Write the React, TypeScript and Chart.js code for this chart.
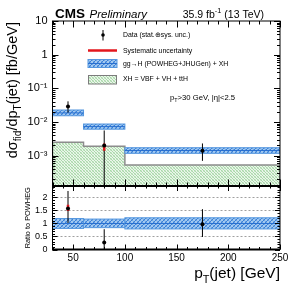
import React, { useEffect, useRef } from 'react';
import { Chart, registerables } from 'chart.js';
Chart.register(...registerables);

const FONT = '"Liberation Sans", Arial, Helvetica, sans-serif';

// ---------------- data ----------------
const binEdges = [30, 60, 100, 250];
const xhXS = [2.5e-3, 1.9e-3, 5.3e-4];
const ggHXS = [1.86e-2, 7.3e-3, 1.42e-3];
const ggHUp = [2.27e-2, 8.7e-3, 1.72e-3];
const ggHDown = [1.53e-2, 6.1e-3, 1.17e-3];
const dataBinCenters = [45, 80, 175];
const dataXS = [2.9e-2, 2.0e-3, 1.4e-3];
const dataTotUp = [4.1e-2, 5.6e-3, 2.3e-3];
const dataTotDown = [1.9e-2, 1e-6, 7.0e-4];
const dataSysUp = [3.15e-2, 2.3e-3, 1.5e-3];
const dataSysDown = [2.7e-2, 1.4e-3, 1.3e-3];
const ratioValues = [1.58, 0.27, 0.97];
const ratioTotUp = [2.25, 0.78, 1.55];
const ratioTotDown = [1.02, 0.0, 0.48];
const ratioSysUp = [1.72, 0.31, 1.0];
const ratioSysDown = [1.48, 0.23, 0.94];
const ratioBandLow = [0.81, 0.84, 0.79];
const ratioBandHigh = [1.19, 1.17, 1.22];
const xTickValues = [50, 100, 150, 200, 250];
const ratioTickValues = [0, 0.5, 1, 1.5, 2];
const ratioGridValues = [0.5, 1, 1.5, 2];
const logTickValues = [10, 1, 0.1, 0.01, 0.001];
const logTickLabels = ['10', '1', '10\u207B\u00B9', '10\u207B\u00B2', '10\u207B\u00B3'];
const legendLabels = [
  'Data (stat.\u2295sys. unc.)',
  'Systematic uncertainty',
  'gg\u2192H (POWHEG+JHUGen) + XH',
  'XH = VBF + VH + ttH',
];

type Part = { t: string; sub?: boolean; sup?: boolean };

function richWidth(ctx: CanvasRenderingContext2D, parts: Part[], size: number, style = '') {
  let w = 0;
  for (const p of parts) {
    const s = p.sub || p.sup ? size * 0.7 : size;
    ctx.font = `${style} ${s}px ${FONT}`;
    w += ctx.measureText(p.t).width;
  }
  return w;
}

function drawRich(ctx: CanvasRenderingContext2D, parts: Part[], x: number, y: number, size: number, align: 'left' | 'right' | 'center', style = '') {
  const w = richWidth(ctx, parts, size, style);
  let cx = align === 'left' ? x : align === 'right' ? x - w : x - w / 2;
  ctx.textAlign = 'left';
  for (const p of parts) {
    const s = p.sub || p.sup ? size * 0.7 : size;
    ctx.font = `${style} ${s}px ${FONT}`;
    const dy = p.sub ? size * 0.3 : p.sup ? -size * 0.4 : 0;
    ctx.fillText(p.t, cx, y + dy);
    cx += ctx.measureText(p.t).width;
  }
}

let patternCache: { blue: CanvasPattern | string; green: CanvasPattern | string } | null = null;
function getPatterns(ctx: CanvasRenderingContext2D) {
  if (patternCache) return patternCache;
  const b = document.createElement('canvas');
  b.width = 4; b.height = 4;
  const bc = b.getContext('2d')!;
  bc.fillStyle = '#a3c9f0';
  bc.fillRect(0, 0, 4, 4);
  bc.fillStyle = '#3a80d6';
  for (let i = 0; i < 4; i++) bc.fillRect(i, 3 - i, 1, 1);
  bc.fillStyle = '#6fa7e6';
  for (let i = 0; i < 4; i++) bc.fillRect(i, i, 1, 1);
  const g = document.createElement('canvas');
  g.width = 3; g.height = 3;
  const gc = g.getContext('2d')!;
  gc.fillStyle = '#eaf6ea';
  gc.fillRect(0, 0, 3, 3);
  gc.fillStyle = '#a9d8a9';
  gc.fillRect(0, 0, 1, 1);
  gc.fillRect(1, 1, 1, 1);
  gc.fillRect(2, 2, 1, 1);
  gc.fillStyle = '#cbe8cb';
  gc.fillRect(2, 0, 1, 1);
  gc.fillRect(0, 2, 1, 1);
  patternCache = {
    blue: ctx.createPattern(b, 'repeat') || '#8dbbea',
    green: ctx.createPattern(g, 'repeat') || '#d6eed6',
  };
  return patternCache;
}

function drawBand(ctx: CanvasRenderingContext2D, x0: number, x1: number, yTop: number, yBot: number, yMid: number, pat: CanvasPattern | string) {
  ctx.fillStyle = pat;
  ctx.fillRect(x0, yTop, x1 - x0, yBot - yTop);
  ctx.strokeStyle = '#5597df';
  ctx.lineWidth = 1;
  ctx.strokeRect(x0, yTop, x1 - x0, yBot - yTop);
  ctx.strokeStyle = '#2a70d0';
  ctx.beginPath();
  ctx.moveTo(x0, yMid);
  ctx.lineTo(x1, yMid);
  ctx.stroke();
}

function errorBar(ctx: CanvasRenderingContext2D, x: number, yA: number, yB: number, color: string, w: number) {
  ctx.strokeStyle = color;
  ctx.lineWidth = w;
  ctx.beginPath();
  ctx.moveTo(x, yA);
  ctx.lineTo(x, yB);
  ctx.stroke();
}

const hepPlugin = {
  id: 'hep',
  beforeDatasetsDraw(chart: any) {
    const ctx: CanvasRenderingContext2D = chart.ctx;
    const x = chart.scales.x, y = chart.scales.y, yr = chart.scales.yr;
    const L = x.left, R = x.right;
    const pats = getPatterns(ctx);
    const px = (v: number) => x.getPixelForValue(v);

    // ---- top panel ----
    ctx.save();
    ctx.beginPath();
    ctx.rect(L, y.top, R - L, y.bottom - y.top);
    ctx.clip();
    ctx.beginPath();
    ctx.moveTo(px(binEdges[0]), y.bottom + 3);
    for (let i = 0; i < xhXS.length; i++) {
      const yp = y.getPixelForValue(xhXS[i]);
      ctx.lineTo(px(binEdges[i]), yp);
      ctx.lineTo(px(binEdges[i + 1]), yp);
    }
    ctx.lineTo(px(binEdges[binEdges.length - 1]), y.bottom + 3);
    ctx.closePath();
    ctx.fillStyle = pats.green;
    ctx.fill();
    ctx.strokeStyle = '#8c8c8c';
    ctx.lineWidth = 1.5;
    ctx.stroke();
    for (let i = 0; i < ggHXS.length; i++) {
      drawBand(ctx, px(binEdges[i]), px(binEdges[i + 1]), y.getPixelForValue(ggHUp[i]), y.getPixelForValue(ggHDown[i]), y.getPixelForValue(ggHXS[i]), pats.blue);
    }
    for (let i = 0; i < dataXS.length; i++) {
      const xp = px(dataBinCenters[i]);
      errorBar(ctx, xp, y.getPixelForValue(dataTotUp[i]), Math.min(y.getPixelForValue(dataTotDown[i]), y.bottom + 2), '#000', 1);
      errorBar(ctx, xp, y.getPixelForValue(dataSysUp[i]), y.getPixelForValue(dataSysDown[i]), '#e3161c', 2.5);
    }
    ctx.restore();

    // ---- ratio panel ----
    ctx.save();
    ctx.beginPath();
    ctx.rect(L, yr.top, R - L, yr.bottom - yr.top);
    ctx.clip();
    ctx.strokeStyle = '#a0a0a0';
    ctx.lineWidth = 1;
    ctx.setLineDash([2, 2]);
    for (const g of ratioGridValues) {
      const yp = Math.round(yr.getPixelForValue(g)) + 0.5;
      ctx.beginPath();
      ctx.moveTo(L, yp);
      ctx.lineTo(R, yp);
      ctx.stroke();
    }
    ctx.setLineDash([]);
    for (let i = 0; i < ratioBandLow.length; i++) {
      drawBand(ctx, px(binEdges[i]), px(binEdges[i + 1]), yr.getPixelForValue(ratioBandHigh[i]), yr.getPixelForValue(ratioBandLow[i]), yr.getPixelForValue(1), pats.blue);
    }
    for (let i = 0; i < ratioValues.length; i++) {
      const xp = px(dataBinCenters[i]);
      errorBar(ctx, xp, yr.getPixelForValue(ratioTotUp[i]), yr.getPixelForValue(ratioTotDown[i]), '#000', 1);
      errorBar(ctx, xp, yr.getPixelForValue(ratioSysUp[i]), yr.getPixelForValue(ratioSysDown[i]), '#e3161c', 2.5);
    }
    ctx.restore();
  },
  afterDraw(chart: any) {
    const ctx: CanvasRenderingContext2D = chart.ctx;
    const x = chart.scales.x, y = chart.scales.y, yr = chart.scales.yr;
    const L = x.left, R = x.right;
    const px = (v: number) => x.getPixelForValue(v);
    ctx.save();
    ctx.strokeStyle = '#000';
    ctx.lineWidth = 1;
    // frames
    ctx.strokeRect(L, y.top, R - L, y.bottom - y.top);
    ctx.strokeRect(L, yr.top, R - L, yr.bottom - yr.top);
    ctx.lineWidth = 2;
    ctx.beginPath();
    ctx.moveTo(L, y.bottom);
    ctx.lineTo(R, y.bottom);
    ctx.moveTo(L, yr.bottom);
    ctx.lineTo(R, yr.bottom);
    ctx.stroke();
    ctx.lineWidth = 1;
    // x ticks
    ctx.beginPath();
    for (let v = binEdges[0]; v <= binEdges[binEdges.length - 1]; v += 10) {
      const major = v % 50 === 0;
      const xp = Math.round(px(v)) + 0.5;
      const lt = major ? 6.5 : 3.5;
      const lr = major ? 5 : 2.5;
      ctx.moveTo(xp, y.top); ctx.lineTo(xp, y.top + lt);
      ctx.moveTo(xp, y.bottom); ctx.lineTo(xp, y.bottom - lt);
      ctx.moveTo(xp, yr.top); ctx.lineTo(xp, yr.top + lr);
      ctx.moveTo(xp, yr.bottom); ctx.lineTo(xp, yr.bottom - lr);
    }
    // log y ticks
    for (let e = -4; e <= 1; e++) {
      for (let m = 1; m <= 9; m++) {
        const v = m * Math.pow(10, e);
        if (v < y.min || v > y.max) continue;
        const yp = Math.round(y.getPixelForValue(v)) + 0.5;
        const len = m === 1 ? 6 : 3;
        ctx.moveTo(L, yp); ctx.lineTo(L + len, yp);
        ctx.moveTo(R, yp); ctx.lineTo(R - len, yp);
      }
    }
    // ratio y ticks
    for (let k = 0; k <= 24; k++) {
      const v = k / 10;
      const yp = Math.round(yr.getPixelForValue(v)) + 0.5;
      const len = k % 5 === 0 ? 5 : 2.5;
      ctx.moveTo(L, yp); ctx.lineTo(L + len, yp);
      ctx.moveTo(R, yp); ctx.lineTo(R - len, yp);
    }
    ctx.stroke();

    // ---- header ----
    ctx.fillStyle = '#000';
    ctx.textBaseline = 'alphabetic';
    ctx.textAlign = 'left';
    ctx.font = `bold 13.5px ${FONT}`;
    ctx.fillText('CMS', 55, 17.5);
    ctx.font = `italic 11.5px ${FONT}`;
    ctx.fillText('Preliminary', 89.5, 17.5);
    drawRich(ctx, [{ t: '35.9 fb' }, { t: '-1', sup: true }, { t: ' (13 TeV)' }], 264, 17.5, 10.5, 'right');

    // ---- legend ----
    const lx0 = 88, lx1 = 117;
    ctx.strokeStyle = '#000';
    ctx.lineWidth = 1;
    ctx.beginPath();
    ctx.moveTo(103, 30); ctx.lineTo(103, 40.5);
    ctx.stroke();
    ctx.beginPath();
    ctx.arc(103, 35, 1.8, 0, Math.PI * 2);
    ctx.fill();
    ctx.strokeStyle = '#e3161c';
    ctx.lineWidth = 2.5;
    ctx.beginPath();
    ctx.moveTo(lx0, 50.5); ctx.lineTo(lx1, 50.5);
    ctx.stroke();
    const pats = getPatterns(ctx);
    drawBand(ctx, lx0, lx1, 59.5, 67.5, 63.5, pats.blue);
    ctx.fillStyle = pats.green;
    ctx.fillRect(lx0, 75, lx1 - lx0, 9);
    ctx.strokeStyle = '#7c7c7c';
    ctx.lineWidth = 1;
    ctx.strokeRect(lx0 + 0.5, 75.5, lx1 - lx0 - 1, 8.5);
    ctx.fillStyle = '#000';
    ctx.textBaseline = 'middle';
    ctx.font = `6.9px ${FONT}`;
    const ly = [35.5, 51, 64, 79.5];
    legendLabels.forEach((t, i) => ctx.fillText(t, 123, ly[i]));
    ctx.textBaseline = 'alphabetic';
    drawRich(ctx, [{ t: 'p' }, { t: 'T', sub: true }, { t: '>30 GeV, |\u03B7|<2.5' }], 170, 100, 7.7, 'left');

    // ---- axis titles ----
    ctx.save();
    ctx.translate(17, y.top + 1);
    ctx.rotate(-Math.PI / 2);
    drawRich(ctx, [{ t: 'd\u03C3' }, { t: 'fid', sub: true }, { t: '/dp' }, { t: 'T', sub: true }, { t: '(jet) [fb/GeV]' }], 0, 0, 14.5, 'right');
    ctx.restore();
    ctx.save();
    ctx.translate(29.5, (yr.top + yr.bottom) / 2);
    ctx.rotate(-Math.PI / 2);
    drawRich(ctx, [{ t: 'Ratio to POWHEG' }], 0, 0, 7.4, 'center');
    ctx.restore();
    drawRich(ctx, [{ t: 'p' }, { t: 'T', sub: true }, { t: '(jet) [GeV]' }], R, 278, 15.5, 'right');
    ctx.restore();
  },
};

function logLabel(v: number): string {
  for (let i = 0; i < logTickValues.length; i++) {
    if (Math.abs(v - logTickValues[i]) / logTickValues[i] < 1e-6) return logTickLabels[i];
  }
  return '';
}

export default function App() {
  const ref = useRef<HTMLCanvasElement>(null);
  useEffect(() => {
    const canvas = ref.current!;
    patternCache = null;
    const chart = new Chart(canvas, {
      type: 'scatter',
      data: {
        datasets: [
          {
            label: 'Data',
            data: dataBinCenters.map((xv, i) => ({ x: xv, y: dataXS[i] })),
            yAxisID: 'y',
            pointRadius: 2,
            pointBackgroundColor: '#000',
            pointBorderColor: '#000',
            pointBorderWidth: 0,
          },
          {
            label: 'Ratio to POWHEG',
            data: dataBinCenters.map((xv, i) => ({ x: xv, y: ratioValues[i] })),
            yAxisID: 'yr',
            pointRadius: 2,
            pointBackgroundColor: '#000',
            pointBorderColor: '#000',
            pointBorderWidth: 0,
          },
        ],
      },
      options: {
        responsive: false,
        animation: false,
        devicePixelRatio: 1,
        layout: { padding: { left: 0, right: 13, top: 21, bottom: 0 } },
        plugins: { legend: { display: false }, tooltip: { enabled: false } },
        scales: {
          x: {
            type: 'linear',
            min: binEdges[0],
            max: binEdges[binEdges.length - 1],
            position: 'bottom',
            grid: { display: false, drawTicks: false },
            border: { display: false },
            afterBuildTicks: (s: any) => { s.ticks = xTickValues.map((v) => ({ value: v })); },
            ticks: {
              autoSkip: false,
              maxRotation: 0,
              padding: 3,
              color: '#000',
              font: { family: FONT, size: 10 },
              callback: (v: any) => String(v),
            },
            afterFit: (s: any) => { s.height = 37.5; },
          },
          y: {
            type: 'logarithmic',
            min: 1.25e-4,
            max: 10,
            position: 'left',
            stack: 'panels',
            stackWeight: 2.6,
            weight: 2,
            grid: { display: false, drawTicks: false },
            border: { display: false },
            afterBuildTicks: (s: any) => { s.ticks = logTickValues.map((v) => ({ value: v })); },
            ticks: {
              autoSkip: false,
              padding: 5,
              color: '#000',
              font: { family: FONT, size: 11 },
              callback: (v: any) => logLabel(Number(v)),
            },
            afterFit: (s: any) => { s.width = 52.5; },
          },
          yr: {
            type: 'linear',
            min: 0,
            max: 2.44,
            position: 'left',
            stack: 'panels',
            stackWeight: 1,
            weight: 1,
            grid: { display: false, drawTicks: false },
            border: { display: false },
            afterBuildTicks: (s: any) => { s.ticks = ratioTickValues.map((v) => ({ value: v })); },
            ticks: {
              autoSkip: false,
              padding: 5,
              color: '#000',
              font: { family: FONT, size: 9 },
              callback: (v: any) => String(v),
            },
            afterFit: (s: any) => { s.width = 52.5; },
          },
        },
      },
      plugins: [hepPlugin],
    } as any);
    return () => chart.destroy();
  }, []);
  return (
    <div style={{ position: 'fixed', left: 0, top: 0, width: 293, height: 287, background: '#fff' }}>
      <canvas ref={ref} width={293} height={287} style={{ display: 'block', width: 293, height: 287 }} />
    </div>
  );
}
